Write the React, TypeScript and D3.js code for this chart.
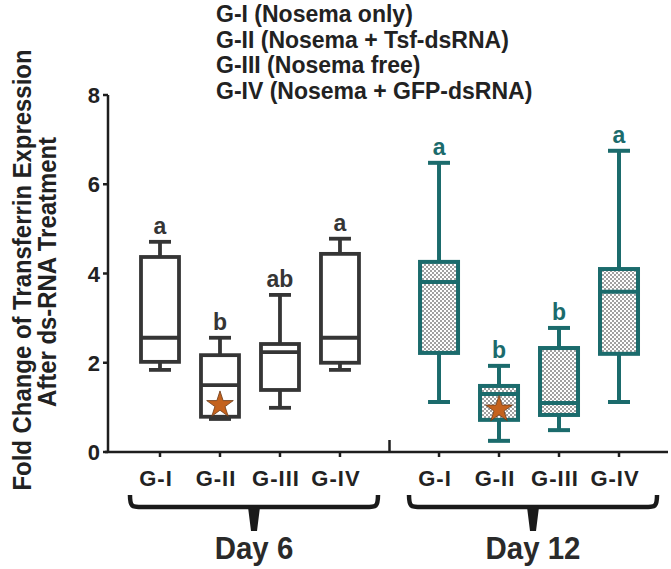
import React from "react";
import * as d3 from "d3";

const days = ["Day 6", "Day 12"];
const groups = ["G-I", "G-II", "G-III", "G-IV"];
const legendLines = [
  "G-I (Nosema only)",
  "G-II (Nosema + Tsf-dsRNA)",
  "G-III (Nosema free)",
  "G-IV (Nosema + GFP-dsRNA)",
];
const yTicks = [0, 2, 4, 6, 8];

// Day 6 box statistics (G-I..G-IV)
const day6Low = [1.84, 0.74, 0.99, 1.84];
const day6Q1 = [2.02, 0.79, 1.39, 2.0];
const day6Median = [2.56, 1.5, 2.24, 2.56];
const day6Q3 = [4.37, 2.17, 2.42, 4.44];
const day6High = [4.71, 2.56, 3.52, 4.78];
const day6Letters = ["a", "b", "ab", "a"];

// Day 12 box statistics (G-I..G-IV)
const day12Low = [1.12, 0.25, 0.49, 1.12];
const day12Q1 = [2.22, 0.72, 0.83, 2.2];
const day12Median = [3.81, 1.3, 1.1, 3.59];
const day12Q3 = [4.26, 1.48, 2.33, 4.1];
const day12High = [6.48, 1.93, 2.78, 6.75];
const day12Letters = ["a", "b", "b", "a"];

// star markers (G-II in each day)
const starDays = ["Day 6", "Day 12"];
const starGroups = ["G-II", "G-II"];
const starValues = [1.1, 1.0];

const FONT = "'Liberation Sans', Arial, Helvetica, sans-serif";
const DARK = "#353535";
const TEAL = "#1b6b6c";
const AXIS = "#1e1e1e";

const W = 671;
const H = 569;

export default function App() {
  const y = d3.scaleLinear().domain([0, 8]).range([452, 95]);
  const xOuter = d3.scaleBand().domain(days).range([130, 649]).paddingInner(0.14);
  const xInner = d3.scaleBand().domain(groups).range([0, xOuter.bandwidth()]);
  const cx = (day: string, g: string) =>
    (xOuter(day) as number) + (xInner(g) as number) + xInner.bandwidth() / 2;

  const boxes = [
    ...groups.map((g, i) => ({
      day: "Day 6", g, low: day6Low[i], q1: day6Q1[i], med: day6Median[i],
      q3: day6Q3[i], high: day6High[i], letter: day6Letters[i], color: DARK, fill: "white",
    })),
    ...groups.map((g, i) => ({
      day: "Day 12", g, low: day12Low[i], q1: day12Q1[i], med: day12Median[i],
      q3: day12Q3[i], high: day12High[i], letter: day12Letters[i], color: TEAL, fill: "url(#dots)",
    })),
  ];

  const boxW = 38;
  const capW = 22;
  const starPath = d3.symbol(d3.symbolStar, 220)() as string;

  const axisLeft = 108;
  const axisRight = 668;
  const y0 = y(0);
  const breakX = (xOuter("Day 6") as number) + xOuter.bandwidth() + (xOuter.step() - xOuter.bandwidth()) / 2;

  const braceTop = 495;
  const braceMid = 507;
  const stemEnd = 531;

  return (
    <svg width={W} height={H} style={{ position: "absolute", left: 0, top: 0, display: "block", background: "white" }}>
      <defs>
        <pattern id="dots" width="4" height="4" patternUnits="userSpaceOnUse">
          <rect width="4" height="4" fill="white" />
          <circle cx="1" cy="1" r="0.8" fill="#2a2a2a" />
          <circle cx="3" cy="3" r="0.8" fill="#2a2a2a" />
        </pattern>
      </defs>

      {/* legend */}
      {legendLines.map((t, i) => (
        <text key={t} x={216} y={22 + i * 25.7} fontFamily={FONT} fontWeight="bold" fontSize={23} fill="#222">
          {t}
        </text>
      ))}

      {/* y axis title */}
      <g fontFamily={FONT} fontWeight="bold" fontSize={26} fill="#222" textAnchor="middle">
        <text transform={`translate(31,270) rotate(-90) scale(0.92,1)`}>Fold Change of Transferrin Expression</text>
        <text transform={`translate(56,272) rotate(-90) scale(0.92,1)`}>After ds-RNA Treatment</text>
      </g>

      {/* y axis */}
      <line x1={axisLeft} x2={axisLeft} y1={y(8)} y2={y0} stroke={AXIS} strokeWidth={2.5} />
      {yTicks.map((t) => (
        <g key={t}>
          <line x1={axisLeft - 5} x2={axisLeft} y1={y(t)} y2={y(t)} stroke={AXIS} strokeWidth={2.5} />
          <text x={100} y={y(t) + 8} textAnchor="end" fontFamily={FONT} fontWeight="bold" fontSize={22} fill="#222">
            {t}
          </text>
        </g>
      ))}

      {/* x axis */}
      <line x1={axisLeft - 3} x2={axisRight} y1={y0} y2={y0} stroke={AXIS} strokeWidth={2.5} />
      <line x1={breakX} x2={breakX} y1={y0 - 12} y2={y0} stroke={AXIS} strokeWidth={2.5} />
      {days.map((d) =>
        groups.map((g) => (
          <g key={d + g}>
            <line x1={cx(d, g)} x2={cx(d, g)} y1={y0} y2={y0 + 5} stroke={AXIS} strokeWidth={2.5} />
            <text x={cx(d, g) - 4} y={486} textAnchor="middle" letterSpacing={1} fontFamily={FONT} fontWeight="bold" fontSize={22} fill="#222">
              {g}
            </text>
          </g>
        ))
      )}

      {/* braces and day labels */}
      {days.map((d) => {
        const c = (xOuter(d) as number) + xOuter.bandwidth() / 2 + 4;
        const x0 = c - 124;
        const x1 = c + 124;
        return (
          <g key={d}>
            <path
              d={`M${x0},${braceTop} C${x0},${braceMid} ${x0 + 2},${braceMid} ${x0 + 12},${braceMid} L${x1 - 12},${braceMid} C${x1 - 2},${braceMid} ${x1},${braceMid} ${x1},${braceTop}`}
              fill="none" stroke="#1a1a1a" strokeWidth={4.5}
            />
            <path d={`M${c - 6},${braceMid} L${c + 6},${braceMid} L${c + 3},${stemEnd} L${c - 3},${stemEnd} Z`} fill="#1a1a1a" />
            <text transform={`translate(${c},559) scale(0.95,1)`} textAnchor="middle" fontFamily={FONT} fontWeight="bold" fontSize={31} fill="#2a2a2a">
              {d}
            </text>
          </g>
        );
      })}

      {/* boxes */}
      {boxes.map((b) => {
        const x = cx(b.day, b.g);
        return (
          <g key={b.day + b.g} stroke={b.color} strokeWidth={b.day === "Day 6" ? 3.8 : 4}>
            <line x1={x} x2={x} y1={y(b.high)} y2={y(b.q3)} />
            <line x1={x} x2={x} y1={y(b.q1)} y2={y(b.low)} />
            <line x1={x - capW / 2} x2={x + capW / 2} y1={y(b.high)} y2={y(b.high)} />
            <line x1={x - capW / 2} x2={x + capW / 2} y1={y(b.low)} y2={y(b.low)} />
            <rect x={x - boxW / 2} y={y(b.q3)} width={boxW} height={y(b.q1) - y(b.q3)} fill={b.fill} />
            <line x1={x - boxW / 2} x2={x + boxW / 2} y1={y(b.med)} y2={y(b.med)} />
            <text x={x} y={y(b.high) - 8} textAnchor="middle" stroke="none" fill={b.color} fontFamily={FONT} fontWeight="bold" fontSize={23}>
              {b.letter}
            </text>
          </g>
        );
      })}

      {/* stars */}
      {starValues.map((v, i) => (
        <path
          key={i}
          d={starPath}
          transform={`translate(${cx(starDays[i], starGroups[i])},${y(v) + 2})`}
          fill="#c4621d"
          stroke="#6b3a17"
          strokeWidth={0.8}
        />
      ))}
    </svg>
  );
}
